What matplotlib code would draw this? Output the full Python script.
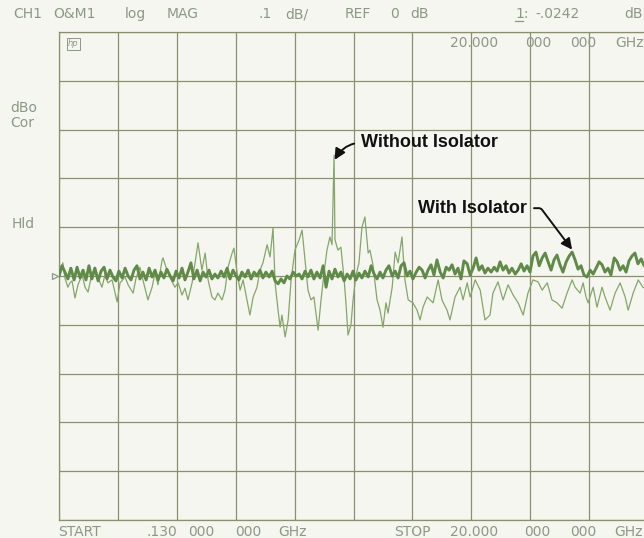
import numpy as np
import matplotlib.pyplot as plt

# sweep settings of the analyzer display
start_ghz = 0.13
stop_ghz = 20.0
ref_db = 0.0
db_per_div = 0.1

# trace without isolator (thin) - vertices
without_ghz = [0.13, 0.16, 0.26, 0.33, 0.43, 0.50, 0.57, 0.67, 0.77, 0.91,
               1.01, 1.11, 1.21, 1.34, 1.45, 1.58, 1.68, 1.78, 1.92, 2.09,
               2.19, 2.36, 2.46, 2.63, 2.73, 2.86, 2.96, 3.13, 3.27, 3.37,
               3.47, 3.61, 3.64, 3.77, 3.88, 4.04, 4.15, 4.28, 4.38, 4.48,
               4.62, 4.72, 4.82, 4.95, 5.06, 5.16, 5.29, 5.39, 5.49, 5.63,
               5.73, 5.83, 5.97, 6.03, 6.14, 6.24, 6.34, 6.47, 6.57, 6.68,
               6.81, 6.91, 7.01, 7.15, 7.25, 7.35, 7.42, 7.52, 7.59, 7.65,
               7.76, 7.86, 7.96, 8.09, 8.23, 8.33, 8.43, 8.53, 8.63, 8.73,
               8.87, 8.97, 9.07, 9.17, 9.27, 9.34, 9.41, 9.44, 9.54, 9.64,
               9.75, 9.81, 9.88, 9.98, 10.05, 10.15, 10.25, 10.35, 10.45, 10.56,
               10.62, 10.72, 10.86, 10.96, 11.06, 11.16, 11.23, 11.37, 11.47, 11.57,
               11.70, 11.80, 11.91, 12.07, 12.21, 12.31, 12.41, 12.55, 12.75, 12.92,
               13.05, 13.22, 13.32, 13.49, 13.66, 13.76, 13.90, 14.00, 14.17, 14.34,
               14.50, 14.67, 14.77, 14.94, 15.11, 15.28, 15.45, 15.62, 15.79, 15.95,
               16.12, 16.29, 16.43, 16.60, 16.76, 16.93, 17.10, 17.27, 17.44, 17.54,
               17.71, 17.81, 17.91, 17.98, 18.15, 18.28, 18.45, 18.55, 18.72, 18.89,
               19.06, 19.23, 19.33, 19.50, 19.67, 19.83, 20.00]
without_db = [0.0, 0.002, 0.027, -0.004, -0.023, -0.014, -0.010, -0.045, -0.018, 0.002,
              -0.023, -0.033, -0.004, 0.018, -0.004, -0.023, 0.002, -0.014, -0.008, -0.053,
              -0.014, -0.002, -0.018, -0.035, -0.004, 0.018, -0.008, -0.049, -0.023, 0.006,
              -0.018, 0.033, 0.037, 0.012, -0.004, -0.023, -0.014, -0.039, -0.025, -0.049,
              -0.014, 0.027, 0.068, 0.012, 0.047, -0.008, -0.043, -0.049, -0.035, -0.049,
              -0.029, 0.018, 0.047, 0.057, 0.006, -0.029, -0.008, -0.049, -0.080, -0.043,
              -0.023, 0.012, 0.027, 0.064, 0.039, 0.098, -0.014, -0.070, -0.105, -0.080,
              -0.125, -0.090, -0.008, 0.053, 0.074, 0.094, 0.033, -0.029, -0.049, -0.043,
              -0.111, -0.049, 0.006, 0.053, 0.080, 0.064, 0.248, 0.074, 0.053, 0.059,
              -0.008, -0.055, -0.121, -0.100, -0.049, 0.002, 0.027, 0.100, 0.121, 0.047,
              0.053, 0.023, -0.049, -0.070, -0.105, -0.055, -0.076, -0.023, 0.049, 0.027,
              0.080, -0.008, -0.049, -0.055, -0.070, -0.090, -0.064, -0.043, -0.055, -0.008,
              -0.049, -0.070, -0.090, -0.043, -0.023, -0.049, -0.014, -0.043, -0.008, -0.029,
              -0.090, -0.080, -0.035, -0.012, -0.049, -0.018, -0.039, -0.055, -0.080, -0.035,
              -0.008, -0.012, -0.029, -0.014, -0.049, -0.055, -0.066, -0.035, -0.008, -0.023,
              -0.035, -0.014, -0.043, -0.055, -0.023, -0.064, -0.023, -0.043, -0.070, -0.035,
              -0.014, -0.043, -0.070, -0.035, -0.008, -0.023, -0.029]

# trace with isolator (thick)
with_ghz = [0.13, 0.23, 0.33, 0.43, 0.53, 0.64, 0.74, 0.84, 0.94, 1.04,
            1.14, 1.24, 1.34, 1.45, 1.55, 1.65, 1.75, 1.85, 1.95, 2.05,
            2.15, 2.26, 2.36, 2.46, 2.56, 2.66, 2.76, 2.86, 2.96, 3.07,
            3.17, 3.27, 3.37, 3.47, 3.57, 3.67, 3.77, 3.88, 3.98, 4.08,
            4.18, 4.28, 4.38, 4.48, 4.58, 4.68, 4.79, 4.89, 4.99, 5.09,
            5.19, 5.29, 5.39, 5.49, 5.60, 5.70, 5.80, 5.90, 6.00, 6.10,
            6.20, 6.30, 6.41, 6.51, 6.61, 6.71, 6.81, 6.91, 7.01, 7.11,
            7.22, 7.32, 7.42, 7.52, 7.62, 7.72, 7.82, 7.92, 8.03, 8.13,
            8.23, 8.33, 8.43, 8.53, 8.63, 8.73, 8.83, 8.94, 9.04, 9.14,
            9.24, 9.34, 9.44, 9.54, 9.64, 9.75, 9.85, 9.95, 10.05, 10.15,
            10.25, 10.35, 10.45, 10.56, 10.66, 10.76, 10.86, 10.96, 11.06, 11.16,
            11.26, 11.37, 11.47, 11.57, 11.67, 11.77, 11.87, 11.97, 12.07, 12.18,
            12.28, 12.38, 12.48, 12.58, 12.68, 12.78, 12.88, 12.99, 13.09, 13.19,
            13.29, 13.39, 13.49, 13.59, 13.69, 13.79, 13.90, 14.00, 14.10, 14.20,
            14.30, 14.40, 14.50, 14.60, 14.71, 14.81, 14.91, 15.01, 15.11, 15.21,
            15.31, 15.41, 15.52, 15.62, 15.72, 15.82, 15.92, 16.02, 16.12, 16.22,
            16.33, 16.43, 16.53, 16.63, 16.73, 16.83, 16.93, 17.03, 17.13, 17.24,
            17.34, 17.44, 17.54, 17.64, 17.74, 17.84, 17.94, 18.05, 18.15, 18.25,
            18.35, 18.45, 18.55, 18.65, 18.75, 18.86, 18.96, 19.06, 19.16, 19.26,
            19.36, 19.46, 19.56, 19.66, 19.77, 19.87, 19.97]
with_db = [0.0, 0.021, 0.008, -0.006, 0.016, -0.008, 0.018, -0.004, 0.012, -0.008,
           0.021, -0.006, 0.016, -0.010, 0.010, 0.018, -0.006, 0.012, -0.002, -0.010,
           0.010, -0.004, 0.016, 0.0, -0.008, 0.012, 0.021, -0.006, 0.008, -0.008,
           0.016, -0.002, 0.012, -0.008, 0.008, -0.004, 0.014, 0.0, -0.010, 0.010,
           -0.004, 0.016, -0.008, 0.008, 0.027, -0.006, 0.012, -0.010, 0.008, -0.002,
           0.012, -0.006, 0.004, -0.004, 0.010, -0.002, 0.016, -0.006, 0.012, 0.0,
           -0.008, 0.008, -0.002, 0.012, -0.006, 0.008, 0.0, 0.012, -0.004, 0.008,
           -0.002, 0.010, -0.010, -0.016, -0.006, -0.014, 0.0, -0.006, 0.008, 0.0,
           0.004, -0.006, 0.010, -0.002, 0.012, -0.006, 0.008, -0.004, 0.021, -0.023,
           0.010, -0.006, 0.014, -0.002, 0.008, -0.010, 0.004, -0.006, 0.010, -0.008,
           0.006, -0.004, 0.010, -0.002, 0.021, 0.004, -0.006, 0.008, -0.004, 0.012,
           0.021, 0.0, 0.010, -0.004, 0.021, 0.027, 0.0, 0.010, -0.006, 0.008,
           0.018, 0.012, -0.004, 0.012, 0.023, 0.002, 0.033, 0.008, -0.004, 0.018,
           0.012, 0.023, 0.004, 0.016, -0.006, 0.031, 0.025, 0.002, 0.016, 0.037,
           0.012, 0.021, 0.006, 0.016, 0.008, 0.018, 0.010, 0.029, 0.012, 0.021,
           0.006, 0.016, 0.004, 0.012, 0.025, 0.010, 0.021, 0.008, 0.041, 0.049,
           0.021, 0.037, 0.047, 0.029, 0.012, 0.033, 0.043, 0.023, 0.008, 0.029,
           0.041, 0.049, 0.033, 0.014, 0.021, 0.002, -0.002, 0.012, 0.004, 0.016,
           0.029, 0.023, 0.008, 0.016, 0.002, 0.037, 0.029, 0.012, 0.021, 0.008,
           0.031, 0.041, 0.047, 0.025, 0.035, 0.021, 0.029]

# display annotation text (word, x px); the analyzer font is widely spaced
header = [("CH1", 13), ("O&M1", 53), ("log", 125), ("MAG", 167), (".1", 258),
          ("dB/", 285), ("REF", 345), ("0", 390), ("dB", 410), ("1:", 515),
          ("-.0242", 535), ("dB", 624)]
freq_top = [("20.000", 450), ("000", 525), ("000", 570), ("GHz", 615)]
footer = [("START", 58), (".130", 147), ("000", 188), ("000", 235), ("GHz", 278),
          ("STOP", 394), ("20.000", 450), ("000", 524), ("000", 570), ("GHz", 614)]
side = [("dBo", 10, 108), ("Cor", 10, 123), ("Hld", 12, 224)]

W, H = 644, 538
bg = "#f6f6f1"
grid_col = "#8b8f6c"
txt_col = "#8c9886"

fig = plt.figure(figsize=(W / 100, H / 100), dpi=100, facecolor=bg)
# plot area runs from x=59 to x=648 px (right edge is cropped in the original)
ax = fig.add_axes([59 / W, 18 / H, 589 / W, 488 / H], facecolor=bg)

ax.plot(without_ghz, without_db, color="#84a668", lw=0.9, zorder=3)
ax.plot(with_ghz, with_db, color="#5f8a47", lw=2.1, zorder=4)

ax.set_xlim(start_ghz, stop_ghz)
ax.set_ylim(ref_db - 5 * db_per_div, ref_db + 5 * db_per_div)
ax.set_xticks(np.linspace(start_ghz, stop_ghz, 11))
ax.set_yticks(np.linspace(ref_db - 5 * db_per_div, ref_db + 5 * db_per_div, 11))
ax.tick_params(length=0, labelbottom=False, labelleft=False)
ax.grid(True, color=grid_col, lw=0.9)
for s in ax.spines.values():
    s.set_color(grid_col)
    s.set_linewidth(0.9)

# reference position marker
ax.plot([start_ghz - 0.12], [ref_db], marker=">", ms=5, mfc="none", mec=txt_col,
        mew=0.9, clip_on=False, zorder=5)

def px(x, y):
    return x / W, 1 - y / H

hpfont = dict(color=txt_col, fontsize=10, family="DejaVu Sans", va="center")
for s, x in header:
    fig.text(*px(x, 14), s, **hpfont)
for s, x in freq_top:
    fig.text(*px(x, 43), s, **hpfont)
for s, x in footer:
    fig.text(*px(x, 532), s, **hpfont)
for s, x, y in side:
    fig.text(*px(x, y), s, **hpfont)
# marker number is underlined on the display
fig.add_artist(plt.Line2D([515 / W, 523 / W], [1 - 21 / H, 1 - 21 / H],
                          color=txt_col, lw=0.9))
fig.text(*px(68, 44), "hp", color=txt_col, fontsize=6, style="italic", va="center",
         bbox=dict(boxstyle="square,pad=0.15", fc="none", ec=txt_col, lw=0.7))

lab = dict(fontsize=13, fontweight="bold", family="Liberation Sans", color="#111111",
           va="center")
ax.annotate("Without Isolator", xy=(9.43, 0.238), xytext=(10.32, 0.273),
            arrowprops=dict(arrowstyle="-|>,head_length=0.5,head_width=0.25",
                            color="#111111", lw=1.4, relpos=(0, 0.5),
                            connectionstyle="angle3,angleA=0,angleB=60",
                            shrinkA=3, shrinkB=0), ha="left", **lab)
ax.annotate("With Isolator", xy=(17.44, 0.054), xytext=(15.92, 0.139),
            arrowprops=dict(arrowstyle="-|>,head_length=0.5,head_width=0.25",
                            color="#111111", lw=1.4, relpos=(1, 0.5),
                            connectionstyle="angle,angleA=0,angleB=127,rad=2",
                            shrinkA=3, shrinkB=0), ha="right", **lab)

fig.savefig("out.png", dpi=100, facecolor=bg)
